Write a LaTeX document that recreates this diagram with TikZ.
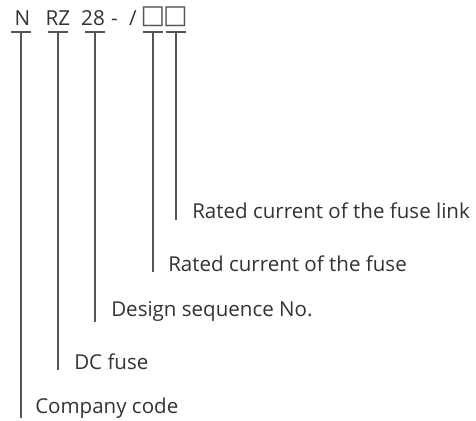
\documentclass[tikz,border=0pt]{standalone}
\usepackage{fontspec}
\setmainfont{Open Sans}
\newfontfamily\symfont{DejaVu Sans}
\definecolor{txt}{HTML}{333333}
\definecolor{ln}{HTML}{555555}
\begin{document}
\begin{tikzpicture}[x=0.75pt,y=-0.75pt,
  code/.style={inner sep=0pt,anchor=base,text=txt,font=\fontsize{15.5}{18}\selectfont},
  lbl/.style={inner sep=0pt,anchor=base west,text=txt,font=\fontsize{15.4}{18}\selectfont},
  tick/.style={draw=ln,line width=0.8pt},
  stem/.style={draw=ln,line width=0.8pt}]
\useasboundingbox (0,0) rectangle (476,421);
% code text
\node[code] (cN) at (22.5,26) {N};
\node[code] (cRZ) at (58,26) {RZ};
\node[code] (c28) at (93,26) {28};
\node[code] (cdash) at (114.5,26) {-};
\node[code] (cslash) at (133,26) {/};
\node[code,text=ln] (cb1) at (153,23) {\symfont\fontsize{19.5}{20}\selectfont □};
\node[code,text=ln] (cb2) at (175.5,23) {\symfont\fontsize{19.5}{20}\selectfont □};
% tick tops
\coordinate (t1) at (21,32);
\coordinate (t2) at (58,32);
\coordinate (t3) at (95,32);
\coordinate (t4) at (153,32);
\coordinate (t5) at (176,32);
% stem ends
\coordinate (e1) at (21,418);
\coordinate (e2) at (58,370);
\coordinate (e3) at (95,322);
\coordinate (e4) at (153,272);
\coordinate (e5) at (176,220);
% bars
\foreach \t in {t1,t2,t3,t4,t5}{
  \draw[tick] ([xshift=-7.5pt]\t) -- ([xshift=7.5pt]\t);
}
\foreach \a/\b in {t1/e1,t2/e2,t3/e3,t4/e4,t5/e5}{
  \draw[stem] (\a) -- (\b);
}
% labels
\node[lbl] (l5) at (192,218) {Rated current of the fuse link};
\node[lbl] (l4) at (168,271) {Rated current of the fuse};
\node[lbl] (l3) at (111,316) {Design sequence No.};
\node[lbl] (l2) at (74,369) {DC fuse};
\node[lbl] (l1) at (35,413) {Company code};
\end{tikzpicture}
\end{document}
